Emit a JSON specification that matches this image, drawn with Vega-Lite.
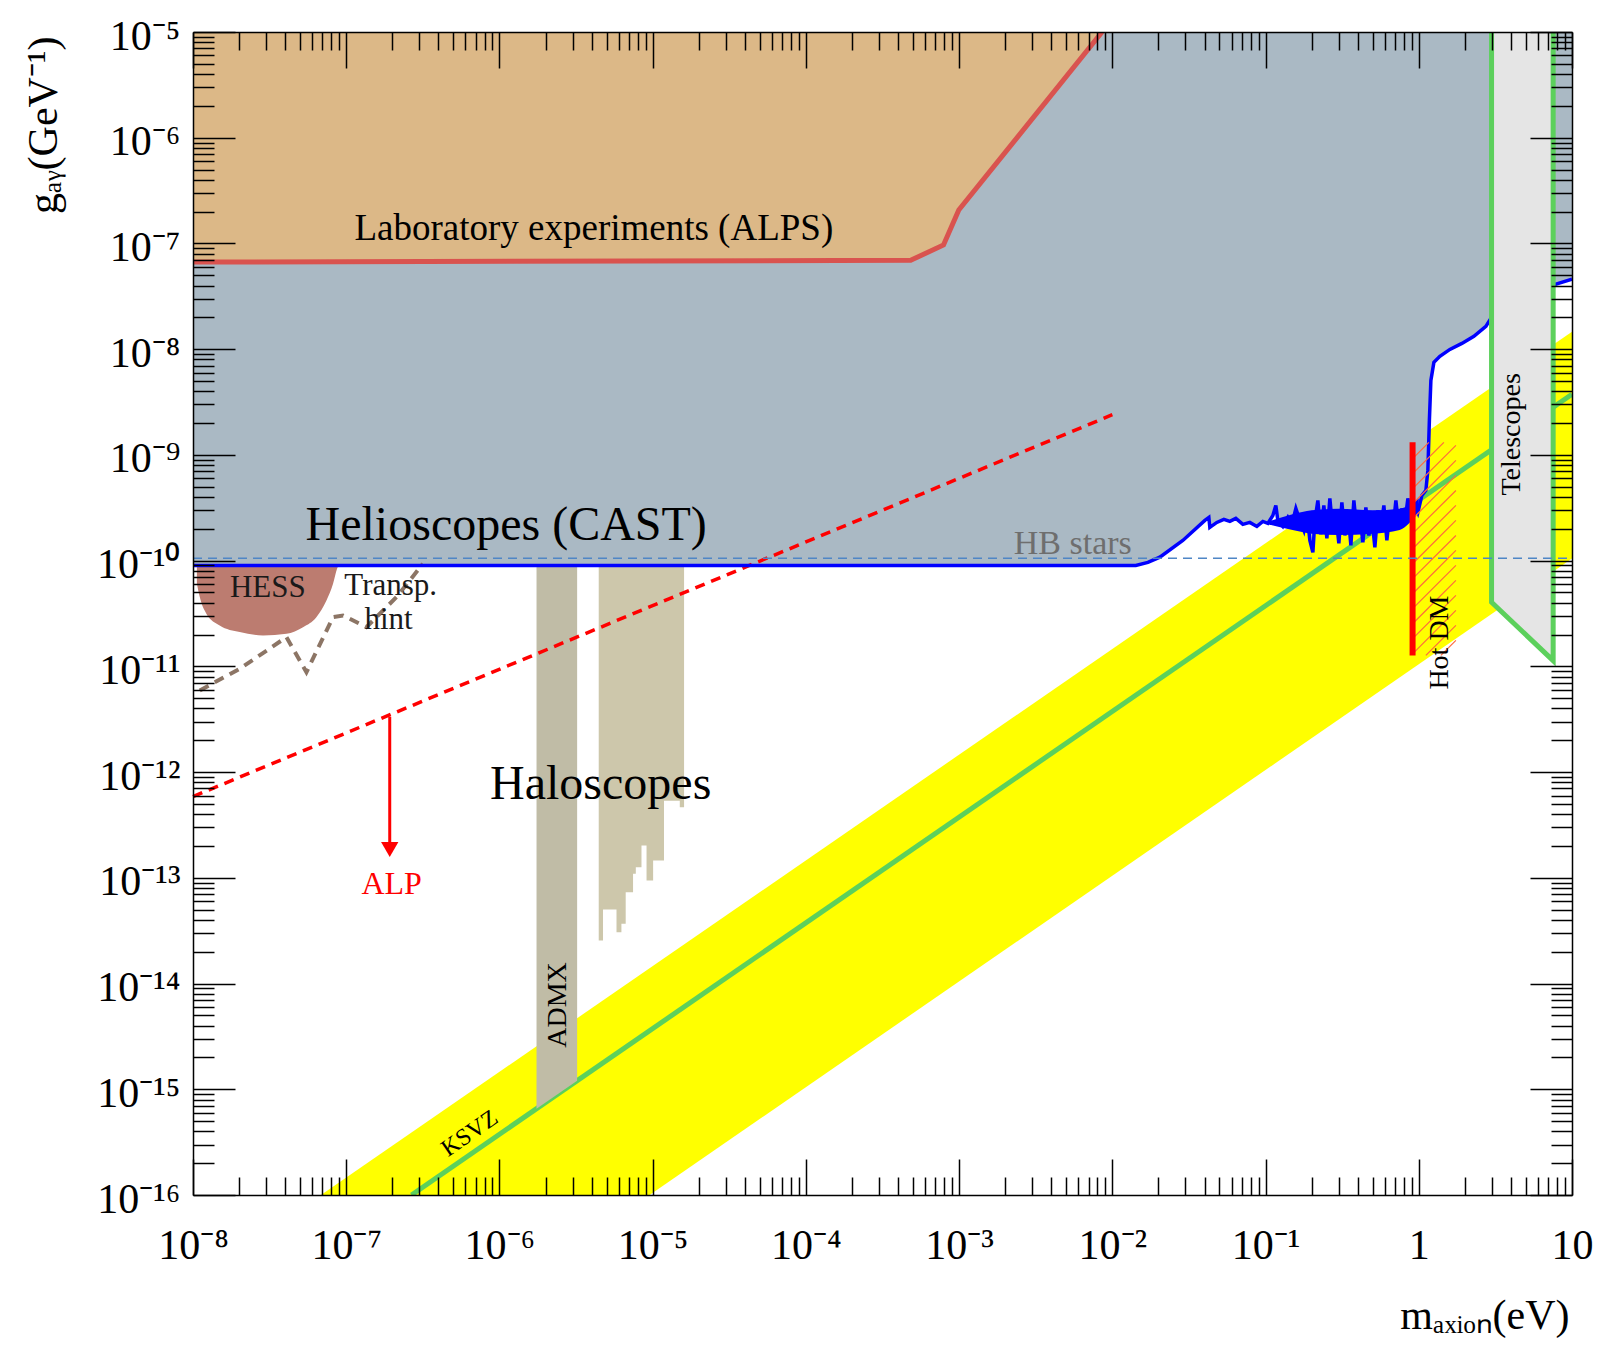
{
  "$schema": "https://vega.github.io/schema/vega-lite/v6.json",
  "width": 1379,
  "height": 1163,
  "autosize": {"type": "none"},
  "padding": {"left": 193, "top": 32, "right": 33, "bottom": 151},
  "background": "white",
  "config": {"view": {"stroke": null}, "axis": {"grid": false}},
  "datasets": {
    "cast": [
      {"m": 1e-8, "g": 9.0e-11}, {"m": 0.01423, "g": 9.0e-11}, {"m": 0.01706, "g": 9.61e-11}, {"m": 0.02042, "g": 1.079e-10},
      {"m": 0.02884, "g": 1.553e-10}, {"m": 0.04018, "g": 2.401e-10}, {"m": 0.04266, "g": 2.563e-10}, {"m": 0.04328, "g": 2.061e-10},
      {"m": 0.04808, "g": 2.298e-10}, {"m": 0.05344, "g": 2.454e-10}, {"m": 0.05848, "g": 2.349e-10}, {"m": 0.06398, "g": 2.507e-10},
      {"m": 0.07112, "g": 2.2e-10}, {"m": 0.07898, "g": 2.298e-10}, {"m": 0.08773, "g": 2.106e-10}, {"m": 0.09603, "g": 2.349e-10},
      {"m": 0.1035, "g": 2.249e-10}, {"m": 0.1116, "g": 2.677e-10}, {"m": 0.1167, "g": 3.328e-10}, {"m": 0.1203, "g": 2.401e-10},
      {"m": 0.1297, "g": 2.106e-10}, {"m": 0.1398, "g": 2.563e-10}, {"m": 0.1485, "g": 2.2e-10}, {"m": 0.1577, "g": 3.118e-10},
      {"m": 0.1674, "g": 2.401e-10}, {"m": 0.1778, "g": 1.931e-10}, {"m": 0.186, "g": 2.858e-10}, {"m": 0.1946, "g": 1.553e-10},
      {"m": 0.2036, "g": 1.196e-10}, {"m": 0.2099, "g": 2.401e-10}, {"m": 0.2195, "g": 3.711e-10}, {"m": 0.2296, "g": 1.77e-10},
      {"m": 0.2401, "g": 3.328e-10}, {"m": 0.2513, "g": 1.622e-10}, {"m": 0.2628, "g": 3.877e-10}, {"m": 0.2749, "g": 1.931e-10},
      {"m": 0.2876, "g": 2.677e-10}, {"m": 0.3009, "g": 1.455e-10}, {"m": 0.3148, "g": 3.553e-10}, {"m": 0.3293, "g": 1.731e-10},
      {"m": 0.3445, "g": 2.985e-10}, {"m": 0.3604, "g": 1.392e-10}, {"m": 0.377, "g": 3.711e-10}, {"m": 0.3944, "g": 1.931e-10},
      {"m": 0.4125, "g": 2.736e-10}, {"m": 0.4316, "g": 1.487e-10}, {"m": 0.4515, "g": 3.186e-10}, {"m": 0.4723, "g": 1.731e-10},
      {"m": 0.4941, "g": 2.507e-10}, {"m": 0.5169, "g": 1.333e-10}, {"m": 0.5408, "g": 2.985e-10}, {"m": 0.5657, "g": 2.016e-10},
      {"m": 0.5918, "g": 3.328e-10}, {"m": 0.6191, "g": 1.553e-10}, {"m": 0.6477, "g": 2.858e-10}, {"m": 0.6775, "g": 1.931e-10},
      {"m": 0.7088, "g": 3.711e-10}, {"m": 0.7415, "g": 2.016e-10}, {"m": 0.7757, "g": 3.118e-10}, {"m": 0.8115, "g": 2.298e-10},
      {"m": 0.8489, "g": 3.877e-10}, {"m": 0.888, "g": 2.677e-10}, {"m": 0.929, "g": 3.553e-10}, {"m": 0.9865, "g": 2.858e-10},
      {"m": 1.0477, "g": 4.139e-10}, {"m": 1.1125, "g": 4.615e-10}, {"m": 1.1466, "g": 7.133e-10}, {"m": 1.1728, "g": 2.121e-9},
      {"m": 1.1995, "g": 5.068e-9}, {"m": 1.2547, "g": 7.503e-9}, {"m": 1.3731, "g": 8.551e-9}, {"m": 1.5959, "g": 9.956e-9},
      {"m": 1.911, "g": 1.134e-8}, {"m": 2.2888, "g": 1.322e-8}, {"m": 2.7416, "g": 1.643e-8}, {"m": 2.9554, "g": 1.956e-8},
      {"m": 7.595, "g": 4.05e-8}, {"m": 10, "g": 4.6e-8}
    ],
    "alps": [
      {"m": 1e-8, "g": 6.67e-8}, {"m": 4.83e-4, "g": 6.93e-8}, {"m": 7.91e-4, "g": 9.68e-8}, {"m": 9.95e-4, "g": 2.07e-7}, {"m": 8.57e-3, "g": 1e-5}
    ]
  },
  "encoding": {
    "x": {"field": "m", "type": "quantitative", "scale": {"type": "log", "domain": [1e-8, 10], "nice": false}, "axis": null},
    "y": {"field": "g", "type": "quantitative", "scale": {"type": "log", "domain": [1e-16, 1e-5], "nice": false}, "axis": null}
  },
  "resolve": {"axis": {"x": "independent", "y": "independent"}},
  "layer": [
    {
      "data": {"values": [{"m": 1e-8, "g": 1.047e-19, "g2": 1.462e-17}, {"m": 10, "g": 1.047e-10, "g2": 1.462e-8}]},
      "mark": {"type": "area", "color": "#ffff00", "clip": true},
      "encoding": {
        "x": {"field": "m", "type": "quantitative", "scale": {"type": "log", "domain": [1e-8, 10], "nice": false},
          "axis": {"orient": "bottom", "values": [1e-8, 1e-7, 1e-6, 1e-5, 1e-4, 1e-3, 1e-2, 1e-1, 1, 10], "ticks": false, "domain": true, "domainColor": "#000", "domainWidth": 1.5,
            "labelExpr": "round(log(datum.value)/LN10) == 0 ? '1' : (round(log(datum.value)/LN10) == 1 ? '10' : '10⁻' + ['⁰','¹','²','³','⁴','⁵','⁶','⁷','⁸','⁹'][abs(round(log(datum.value)/LN10))])",
            "labelFont": "Liberation Serif", "labelFontSize": 42, "labelColor": "#000", "labelPadding": 30, "labelFlush": false, "labelOverlap": false, "labelBaseline": "top",
            "title": "mₐₓᵢₒₙ(eV)", "titleFont": "Liberation Serif", "titleFontSize": 42, "titleFontWeight": "normal", "titleColor": "#000",
            "titleX": 1376, "titleY": 133, "titleAlign": "right", "titleBaseline": "alphabetic", "titleAngle": 0, "zindex": 2, "grid": false}},
        "y": {"field": "g", "type": "quantitative", "scale": {"type": "log", "domain": [1e-16, 1e-5], "nice": false},
          "axis": {"orient": "left", "values": [1e-16, 1e-15, 1e-14, 1e-13, 1e-12, 1e-11, 1e-10, 1e-9, 1e-8, 1e-7, 1e-6, 1e-5], "ticks": false, "domain": true, "domainColor": "#000", "domainWidth": 1.5,
            "labelExpr": "'10⁻' + (round(log(datum.value)/LN10) <= -10 ? '¹' : '') + ['⁰','¹','²','³','⁴','⁵','⁶','⁷','⁸','⁹'][abs(round(log(datum.value)/LN10)) % 10]",
            "labelFont": "Liberation Serif", "labelFontSize": 42, "labelColor": "#000", "labelPadding": 13, "labelFlush": false, "labelOverlap": false, "labelBaseline": "middle", "labelOffset": 4,
            "title": "gₐᵧ(GeV⁻¹)", "titleFont": "Liberation Serif", "titleFontSize": 42, "titleFontWeight": "normal", "titleColor": "#000",
            "titleX": -150, "titleY": 4, "titleAlign": "right", "titleBaseline": "middle", "titleAngle": 270, "zindex": 2, "grid": false}},
        "y2": {"field": "g2"}
      }
    },
    {
      "data": {"values": [{"m": 2.667e-7, "g": 1e-16}, {"m": 10, "g": 3.75e-9}]},
      "mark": {"type": "line", "color": "#5cd05c", "strokeWidth": 5, "clip": true},
      "encoding": {
        "x": {"field": "m", "type": "quantitative", "scale": {"type": "log", "domain": [1e-8, 10], "nice": false},
          "axis": {"orient": "top", "values": [2e-8,3e-8,4e-8,5e-8,6e-8,7e-8,8e-8,9e-8,2e-7,3e-7,4e-7,5e-7,6e-7,7e-7,8e-7,9e-7,2e-6,3e-6,4e-6,5e-6,6e-6,7e-6,8e-6,9e-6,2e-5,3e-5,4e-5,5e-5,6e-5,7e-5,8e-5,9e-5,2e-4,3e-4,4e-4,5e-4,6e-4,7e-4,8e-4,9e-4,2e-3,3e-3,4e-3,5e-3,6e-3,7e-3,8e-3,9e-3,2e-2,3e-2,4e-2,5e-2,6e-2,7e-2,8e-2,9e-2,0.2,0.3,0.4,0.5,0.6,0.7,0.8,0.9,2,3,4,5,6,7,8,9],
            "labels": false, "domain": false, "ticks": true, "tickSize": -18, "tickColor": "#000", "tickWidth": 1.5, "title": null, "grid": false, "zindex": 2}},
        "y": {"field": "g", "type": "quantitative", "scale": {"type": "log", "domain": [1e-16, 1e-5], "nice": false},
          "axis": {"orient": "right", "values": [2e-16,3e-16,4e-16,5e-16,6e-16,7e-16,8e-16,9e-16,2e-15,3e-15,4e-15,5e-15,6e-15,7e-15,8e-15,9e-15,2e-14,3e-14,4e-14,5e-14,6e-14,7e-14,8e-14,9e-14,2e-13,3e-13,4e-13,5e-13,6e-13,7e-13,8e-13,9e-13,2e-12,3e-12,4e-12,5e-12,6e-12,7e-12,8e-12,9e-12,2e-11,3e-11,4e-11,5e-11,6e-11,7e-11,8e-11,9e-11,2e-10,3e-10,4e-10,5e-10,6e-10,7e-10,8e-10,9e-10,2e-9,3e-9,4e-9,5e-9,6e-9,7e-9,8e-9,9e-9,2e-8,3e-8,4e-8,5e-8,6e-8,7e-8,8e-8,9e-8,2e-7,3e-7,4e-7,5e-7,6e-7,7e-7,8e-7,9e-7,2e-6,3e-6,4e-6,5e-6,6e-6,7e-6,8e-6,9e-6],
            "labels": false, "domain": false, "ticks": true, "tickSize": -21, "tickColor": "#000", "tickWidth": 1.5, "title": null, "grid": false, "zindex": 2}}
      }
    },
    {
      "data": {"name": "cast"},
      "mark": {"type": "area", "color": "#aab9c4", "clip": true},
      "encoding": {"y2": {"datum": 1e-5}}
    },
    {
      "data": {"name": "alps"},
      "mark": {"type": "area", "color": "#dcb887", "clip": true},
      "encoding": {"y2": {"datum": 1e-5}}
    },
    {
      "data": {"name": "alps"},
      "mark": {"type": "line", "color": "#d9534f", "strokeWidth": 5, "clip": true},
      "encoding": {}
    },
    {
      "data": {"values": [{"m": 1.746e-6, "g": 6.55e-16}, {"m": 3.214e-6, "g": 1.205e-15}]},
      "mark": {"type": "area", "color": "#c0bca6"},
      "encoding": {"y2": {"datum": 9.0e-11}}
    },
    {
      "data": {"values": [
        {"m": 4.446e-6, "g": 2.553e-14}, {"m": 4.742e-6, "g": 5.012e-14}, {"m": 5.808e-6, "g": 3.055e-14}, {"m": 6.252e-6, "g": 3.673e-14},
        {"m": 6.668e-6, "g": 7.311e-14}, {"m": 7.447e-6, "g": 1.0914e-13}, {"m": 7.762e-6, "g": 1.259e-13}, {"m": 8.453e-6, "g": 2.023e-13},
        {"m": 9.12e-6, "g": 9.419e-14}, {"m": 1.0069e-5, "g": 1.455e-13}, {"m": 1.1858e-5, "g": 5.37e-13}, {"m": 1.503e-5, "g": 4.656e-13},
        {"m": 1.603e-5, "g": 4.656e-13}]},
      "mark": {"type": "area", "color": "#cdc7ab", "interpolate": "step-after"},
      "encoding": {"y2": {"datum": 9.0e-11}}
    },
    {
      "data": {"values": [
        {"m": 1.06e-8, "g": 6.08e-11}, {"m": 1.107e-8, "g": 4.52e-11}, {"m": 1.222e-8, "g": 3.15e-11}, {"m": 1.493e-8, "g": 2.44e-11},
        {"m": 2.018e-8, "g": 2.11e-11}, {"m": 2.864e-8, "g": 1.96e-11}, {"m": 4.074e-8, "g": 2.03e-11}, {"m": 5.224e-8, "g": 2.35e-11},
        {"m": 6.383e-8, "g": 2.92e-11}, {"m": 7.43e-8, "g": 4.2e-11}, {"m": 8.204e-8, "g": 6.04e-11}, {"m": 8.71e-8, "g": 8.37e-11},
        {"m": 8.9e-8, "g": 9.0e-11}]},
      "mark": {"type": "area", "color": "#bc7c70", "interpolate": "monotone"},
      "encoding": {"y2": {"datum": 9.0e-11}}
    },
    {
      "data": {"values": [
        {"m": 1.107e-8, "g": 5.92e-12}, {"m": 2.018e-8, "g": 9.48e-12}, {"m": 4.074e-8, "g": 1.89e-11}, {"m": 5.5e-8, "g": 8.81e-12},
        {"m": 8.204e-8, "g": 2.92e-11}, {"m": 9.53e-8, "g": 3.03e-11}, {"m": 1.355e-7, "g": 2.35e-11}, {"m": 2.128e-7, "g": 4.52e-11},
        {"m": 3.17e-7, "g": 9.35e-11}]},
      "mark": {"type": "line", "color": "#8c7565", "strokeWidth": 4, "strokeDash": [10, 7]},
      "encoding": {}
    },
    {
      "data": {"values": [{"m": 1e-8, "g": 5.87e-13}, {"m": 1e-2, "g": 2.4e-9}]},
      "mark": {"type": "line", "color": "#ff0000", "strokeWidth": 3.5, "strokeDash": [10, 7]},
      "encoding": {
        "x": {"field": "m", "type": "quantitative", "scale": {"type": "log", "domain": [1e-8, 10], "nice": false},
          "axis": {"orient": "top", "values": [1e-8, 1e-7, 1e-6, 1e-5, 1e-4, 1e-3, 1e-2, 1e-1, 1, 10], "labels": false, "domain": true, "domainColor": "#000", "domainWidth": 1.5, "ticks": true, "tickSize": -36, "tickColor": "#000", "tickWidth": 1.5, "title": null, "grid": false, "zindex": 2}},
        "y": {"field": "g", "type": "quantitative", "scale": {"type": "log", "domain": [1e-16, 1e-5], "nice": false},
          "axis": {"orient": "right", "values": [1e-16, 1e-15, 1e-14, 1e-13, 1e-12, 1e-11, 1e-10, 1e-9, 1e-8, 1e-7, 1e-6, 1e-5], "labels": false, "domain": true, "domainColor": "#000", "domainWidth": 1.5, "ticks": true, "tickSize": -42, "tickColor": "#000", "tickWidth": 1.5, "title": null, "grid": false, "zindex": 2}}
      }
    },
    {
      "data": {"values": [{"m": 1.923e-7, "g": 3.34e-12, "g2": 2.02e-13}]},
      "mark": {"type": "rule", "color": "#ff0000", "strokeWidth": 3},
      "encoding": {"y2": {"field": "g2"}}
    },
    {
      "data": {"values": [{"m": 1.923e-7, "g": 1.853e-13}]},
      "mark": {"type": "point", "shape": "triangle-down", "filled": true, "color": "#ff0000", "opacity": 1, "size": 300},
      "encoding": {}
    },
    {
      "data": {"values": [
        {"m": 0.105, "g": 2.2e-10, "g2": 2.35e-10}, {"m": 0.15, "g": 1.95e-10, "g2": 2.75e-10},
        {"m": 0.2, "g": 1.8e-10, "g2": 3.0e-10}, {"m": 0.3, "g": 1.75e-10, "g2": 3.1e-10},
        {"m": 0.5, "g": 1.8e-10, "g2": 3.0e-10}, {"m": 0.75, "g": 1.95e-10, "g2": 3.1e-10},
        {"m": 1.0, "g": 2.9e-10, "g2": 3.9e-10}]},
      "mark": {"type": "area", "color": "#0000ff", "interpolate": "monotone"},
      "encoding": {"y2": {"field": "g2"}}
    },
    {
      "data": {"name": "cast"},
      "mark": {"type": "line", "color": "#0000ff", "strokeWidth": 3.5, "clip": true},
      "encoding": {
        "x": {"field": "m", "type": "quantitative", "scale": {"type": "log", "domain": [1e-8, 10], "nice": false},
          "axis": {"orient": "bottom", "values": [2e-8,3e-8,4e-8,5e-8,6e-8,7e-8,8e-8,9e-8,2e-7,3e-7,4e-7,5e-7,6e-7,7e-7,8e-7,9e-7,2e-6,3e-6,4e-6,5e-6,6e-6,7e-6,8e-6,9e-6,2e-5,3e-5,4e-5,5e-5,6e-5,7e-5,8e-5,9e-5,2e-4,3e-4,4e-4,5e-4,6e-4,7e-4,8e-4,9e-4,2e-3,3e-3,4e-3,5e-3,6e-3,7e-3,8e-3,9e-3,2e-2,3e-2,4e-2,5e-2,6e-2,7e-2,8e-2,9e-2,0.2,0.3,0.4,0.5,0.6,0.7,0.8,0.9,2,3,4,5,6,7,8,9],
            "labels": false, "domain": false, "ticks": true, "tickSize": -18, "tickColor": "#000", "tickWidth": 1.5, "title": null, "grid": false, "zindex": 2}},
        "y": {"field": "g", "type": "quantitative", "scale": {"type": "log", "domain": [1e-16, 1e-5], "nice": false},
          "axis": {"orient": "left", "values": [2e-16,3e-16,4e-16,5e-16,6e-16,7e-16,8e-16,9e-16,2e-15,3e-15,4e-15,5e-15,6e-15,7e-15,8e-15,9e-15,2e-14,3e-14,4e-14,5e-14,6e-14,7e-14,8e-14,9e-14,2e-13,3e-13,4e-13,5e-13,6e-13,7e-13,8e-13,9e-13,2e-12,3e-12,4e-12,5e-12,6e-12,7e-12,8e-12,9e-12,2e-11,3e-11,4e-11,5e-11,6e-11,7e-11,8e-11,9e-11,2e-10,3e-10,4e-10,5e-10,6e-10,7e-10,8e-10,9e-10,2e-9,3e-9,4e-9,5e-9,6e-9,7e-9,8e-9,9e-9,2e-8,3e-8,4e-8,5e-8,6e-8,7e-8,8e-8,9e-8,2e-7,3e-7,4e-7,5e-7,6e-7,7e-7,8e-7,9e-7,2e-6,3e-6,4e-6,5e-6,6e-6,7e-6,8e-6,9e-6],
            "labels": false, "domain": false, "ticks": true, "tickSize": -21, "tickColor": "#000", "tickWidth": 1.5, "title": null, "grid": false, "zindex": 2}}
      }
    },
    {
      "data": {"values": [
        {"m": 0.929, "g": 9.47e-10, "m2": 1.164, "g2": 1.313e-9}, {"m": 0.929, "g": 6.83e-10, "m2": 1.458, "g2": 1.313e-9},
        {"m": 0.929, "g": 4.93e-10, "m2": 1.747, "g2": 1.23e-9}, {"m": 0.929, "g": 3.55e-10, "m2": 1.747, "g2": 8.87e-10},
        {"m": 0.929, "g": 2.56e-10, "m2": 1.747, "g2": 6.4e-10}, {"m": 0.929, "g": 1.85e-10, "m2": 1.747, "g2": 4.61e-10},
        {"m": 0.929, "g": 1.33e-10, "m2": 1.747, "g2": 3.33e-10}, {"m": 0.929, "g": 9.61e-11, "m2": 1.747, "g2": 2.4e-10},
        {"m": 0.929, "g": 6.94e-11, "m2": 1.747, "g2": 1.73e-10}, {"m": 0.929, "g": 5.0e-11, "m2": 1.747, "g2": 1.25e-10},
        {"m": 0.929, "g": 3.61e-11, "m2": 1.747, "g2": 9.01e-11}, {"m": 0.929, "g": 2.6e-11, "m2": 1.747, "g2": 6.5e-11},
        {"m": 0.929, "g": 1.88e-11, "m2": 1.747, "g2": 4.69e-11}, {"m": 0.929, "g": 1.35e-11, "m2": 1.747, "g2": 3.38e-11},
        {"m": 1.1125, "g": 1.27e-11, "m2": 1.747, "g2": 2.44e-11}, {"m": 1.394, "g": 1.27e-11, "m2": 1.747, "g2": 1.76e-11}]},
      "mark": {"type": "rule", "color": "#ff6a3d", "strokeWidth": 1.2},
      "encoding": {"x2": {"field": "m2"}, "y2": {"field": "g2"}}
    },
    {
      "data": {"values": [{"m": 0.911, "g": 1.321e-9, "g2": 1.268e-11}]},
      "mark": {"type": "rule", "color": "#ff0000", "strokeWidth": 6},
      "encoding": {"y2": {"field": "g2"}}
    },
    {
      "data": {"values": [{"m": 2.985, "g": 4.04e-11}, {"m": 7.534, "g": 1.132e-11}]},
      "mark": {"type": "area", "color": "#e5e5e5"},
      "encoding": {"y2": {"datum": 1e-5}}
    },
    {
      "data": {"values": [{"m": 2.985, "g": 1e-5, "o": 1}, {"m": 2.985, "g": 4.04e-11, "o": 2}, {"m": 7.534, "g": 1.132e-11, "o": 3}, {"m": 7.534, "g": 1e-5, "o": 4}]},
      "mark": {"type": "line", "color": "#5cd05c", "strokeWidth": 5, "clip": true},
      "encoding": {"order": {"field": "o", "type": "quantitative"}}
    },
    {
      "data": {"values": [{"m": 1e-8, "g": 1.056e-10}, {"m": 10, "g": 1.056e-10}]},
      "mark": {"type": "line", "color": "#4f86c6", "strokeWidth": 1.5, "strokeDash": [9, 6]},
      "encoding": {
        "x": {"field": "m", "type": "quantitative", "scale": {"type": "log", "domain": [1e-8, 10], "nice": false},
          "axis": {"orient": "bottom", "values": [1e-8, 1e-7, 1e-6, 1e-5, 1e-4, 1e-3, 1e-2, 1e-1, 1, 10], "labels": false, "domain": false, "ticks": true, "tickSize": -36, "tickColor": "#000", "tickWidth": 1.5, "title": null, "grid": false, "zindex": 2}},
        "y": {"field": "g", "type": "quantitative", "scale": {"type": "log", "domain": [1e-16, 1e-5], "nice": false},
          "axis": {"orient": "left", "values": [1e-16, 1e-15, 1e-14, 1e-13, 1e-12, 1e-11, 1e-10, 1e-9, 1e-8, 1e-7, 1e-6, 1e-5], "labels": false, "domain": false, "ticks": true, "tickSize": -42, "tickColor": "#000", "tickWidth": 1.5, "title": null, "grid": false, "zindex": 2}}
      }
    },
    {
      "data": {"values": [{"m": 4.13e-6, "g": 1.069e-7, "t": "Laboratory experiments (ALPS)"}]},
      "mark": {"type": "text", "font": "Liberation Serif", "fontSize": 37, "align": "center", "baseline": "alphabetic", "color": "#000"},
      "encoding": {"text": {"field": "t"}}
    },
    {
      "data": {"values": [{"m": 1.107e-6, "g": 1.552e-10, "t": "Helioscopes (CAST)"}, {"m": 4.58e-6, "g": 5.58e-13, "t": "Haloscopes"}]},
      "mark": {"type": "text", "font": "Liberation Serif", "fontSize": 48, "align": "center", "baseline": "alphabetic", "color": "#000"},
      "encoding": {"text": {"field": "t"}}
    },
    {
      "data": {"values": [{"m": 5.52e-3, "g": 1.146e-10, "t": "HB stars"}]},
      "mark": {"type": "text", "font": "Liberation Serif", "fontSize": 34, "align": "center", "baseline": "alphabetic", "color": "#6e6e6e"},
      "encoding": {"text": {"field": "t"}}
    },
    {
      "data": {"values": [{"m": 3.08e-8, "g": 4.52e-11, "t": "HESS"}, {"m": 1.95e-7, "g": 4.69e-11, "t": "Transp."}, {"m": 1.89e-7, "g": 2.27e-11, "t": "hint"}]},
      "mark": {"type": "text", "font": "Liberation Serif", "fontSize": 31, "align": "center", "baseline": "alphabetic", "color": "#1a1a1a"},
      "encoding": {"text": {"field": "t"}}
    },
    {
      "data": {"values": [{"m": 1.98e-7, "g": 7.01e-14, "t": "ALP"}]},
      "mark": {"type": "text", "font": "Liberation Serif", "fontSize": 32, "align": "center", "baseline": "alphabetic", "color": "#ff0000"},
      "encoding": {"text": {"field": "t"}}
    },
    {
      "data": {"values": [{"m": 2.399e-6, "g": 6.27e-15, "t": "ADMX"}, {"m": 1.374, "g": 1.68e-11, "t": "Hot DM"}, {"m": 4.055, "g": 1.563e-9, "t": "Telescopes"}]},
      "mark": {"type": "text", "font": "Liberation Serif", "fontSize": 28, "align": "center", "baseline": "middle", "angle": 270, "color": "#000"},
      "encoding": {"text": {"field": "t"}}
    },
    {
      "data": {"values": [{"m": 6.4e-7, "g": 3.81e-16, "t": "KSVZ"}]},
      "mark": {"type": "text", "font": "Liberation Serif", "fontSize": 24, "align": "center", "baseline": "middle", "angle": 325.4, "color": "#000"},
      "encoding": {"text": {"field": "t"}}
    }
  ]
}
